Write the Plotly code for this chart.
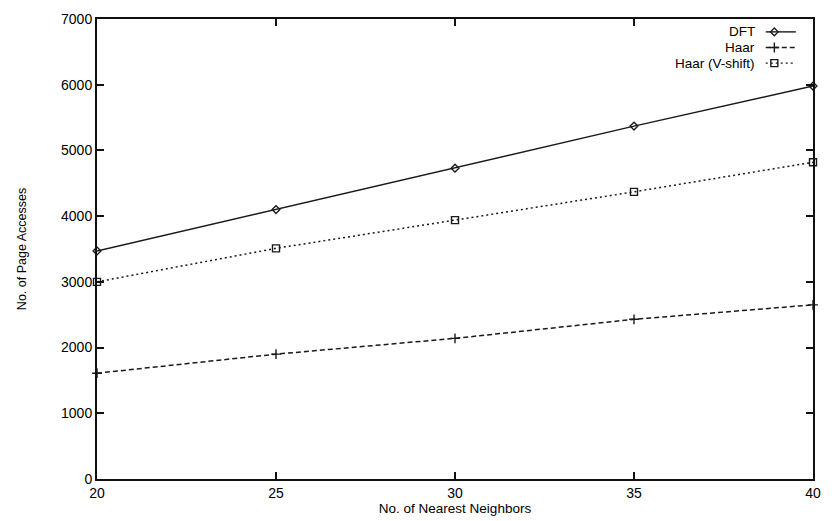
import plotly.graph_objects as go

neighbors = [20, 25, 30, 35, 40]
dft = [3470, 4100, 4730, 5370, 5980]
haar = [1610, 1900, 2140, 2430, 2650]
haar_vshift = [3000, 3510, 3940, 4370, 4820]

series_names = ["DFT", "Haar", "Haar (V-shift)"]
x_ticks = [20, 25, 30, 35, 40]
y_ticks = [0, 1000, 2000, 3000, 4000, 5000, 6000, 7000]

FONT = "Liberation Sans, Arial, sans-serif"
styles = [
    dict(dash="solid", symbol="diamond-open", size=6),
    dict(dash="5px,3px", symbol="cross-thin-open", size=7),
    dict(dash="2px,3px", symbol="square-open", size=7),
]
values = [dft, haar, haar_vshift]

fig = go.Figure()
for name, vals, st in zip(series_names, values, styles):
    fig.add_trace(go.Scatter(
        x=neighbors, y=vals, name=name, mode="lines+markers",
        line=dict(color="#1a1a1a", width=1.5, dash=st["dash"]),
        marker=dict(symbol=st["symbol"], size=st["size"], color="#1a1a1a",
                    line=dict(color="#1a1a1a", width=1.4)),
        showlegend=False, cliponaxis=False,
    ))

# gnuplot-style key (text right-aligned, sample to the right)
key_rows = [0.972, 0.938, 0.904]
for name, st, ky in zip(series_names, styles, key_rows):
    fig.add_trace(go.Scatter(
        x=[0.934, 0.976], y=[ky, ky], xaxis="x2", yaxis="y2", mode="lines",
        line=dict(color="#1a1a1a", width=1.4, dash=st["dash"]), showlegend=False,
        hoverinfo="skip"))
    fig.add_trace(go.Scatter(
        x=[0.946], y=[ky], xaxis="x2", yaxis="y2", mode="markers",
        marker=dict(symbol=st["symbol"], size=st["size"], color="#1a1a1a",
                    line=dict(color="#1a1a1a", width=1.4)),
        showlegend=False, hoverinfo="skip"))
    fig.add_annotation(x=0.92, y=ky, xref="paper", yref="paper", text=name,
                       showarrow=False, xanchor="right", yanchor="middle",
                       borderpad=0,
                       font=dict(family=FONT, size=13.5, color="#000"))

fig.update_layout(
    width=832, height=521,
    margin=dict(l=97, r=11, t=15, b=40),
    paper_bgcolor="white", plot_bgcolor="white",
    font=dict(family=FONT, size=14, color="#000"),
    xaxis=dict(range=[20, 40], tickvals=x_ticks, ticks="inside", ticklen=7,
               tickwidth=1.5, tickcolor="#111", showline=True, linecolor="#111",
               linewidth=2, mirror="ticks", showgrid=False, zeroline=False,
               tickfont=dict(size=14),
               title=dict(text="No. of Nearest Neighbors", standoff=0,
                          font=dict(size=13.5))),
    yaxis=dict(range=[0, 7000], tickvals=y_ticks, ticks="inside", ticklen=7,
               tickwidth=1.5, tickcolor="#111", showline=True, linecolor="#111",
               linewidth=2, mirror="ticks", showgrid=False, zeroline=False,
               tickfont=dict(size=14),
               title=dict(text="No. of Page Accesses", standoff=32,
                          font=dict(size=12.5))),
    xaxis2=dict(overlaying="x", range=[0, 1], visible=False),
    yaxis2=dict(overlaying="y", range=[0, 1], visible=False),
)

fig.write_html("out.html")
